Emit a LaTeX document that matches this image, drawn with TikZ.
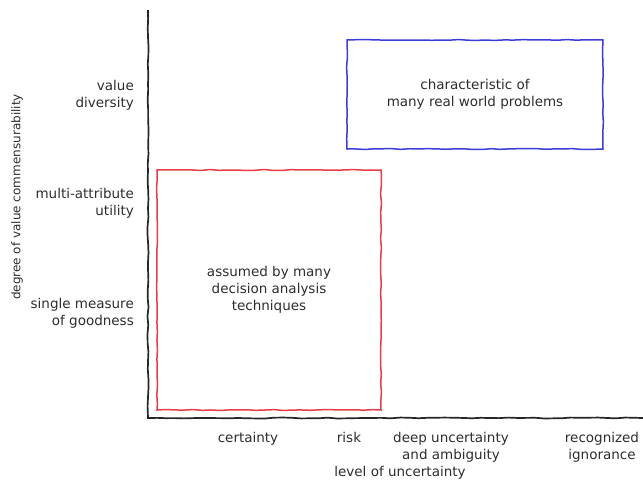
\documentclass[tikz,border=0pt]{standalone}
\usepackage{fontspec}
\setmainfont{DejaVu Sans}
\usetikzlibrary{decorations.pathmorphing}
\definecolor{inkgray}{RGB}{45,45,45}
\definecolor{boxred}{RGB}{232,60,70}
\definecolor{boxblue}{RGB}{60,60,215}
\tikzset{
  wobbly/.style={decorate,decoration={random steps,segment length=9pt,amplitude=0.5pt}},
  lbl/.style={text=inkgray,font=\fontsize{13.5}{17}\selectfont,inner sep=0pt},
  region/.style={draw,wobbly,line width=1.5pt,lbl,align=center}
}
\begin{document}
\begin{tikzpicture}[x=1pt,y=-1pt]
		\useasboundingbox (0,0) rectangle (643,482);
		\pgfmathsetseed{7}
		% Draw axes; adjust line width and color here
		\coordinate (origin) at (148,418);
		\coordinate (ytop) at (148,10);
		\coordinate (xend) at (643,418);
		\draw[wobbly,line width=1.7pt,color=black!85] (ytop) -- (origin) -- (xend);
		% Draw labels on the vertical axis
		\foreach \y/\name/\ylabel in {95/vdiv/value\\diversity,
			203/mau/multi-attribute\\utility,
			313/smg/single measure\\of goodness}
		{\node[lbl,align=right,anchor=east] (\name) at (134,\y) {\ylabel};}
		% Draw labels on the horizontal axis
		\foreach \x/\name/\xlabel in {248/cert/certainty,
			349/risk/risk,
			451/deep/deep uncertainty\\and ambiguity,
			602/ign/recognized\\ignorance}
		{\node[lbl,align=center,anchor=north] (\name) at (\x,432) {\xlabel};}
		% Axis titles
		\node[lbl] (xtitle) at (400,473) {level of uncertainty};
		\node[lbl,font=\fontsize{12}{14}\selectfont,rotate=90] (ytitle) at (17,197) {degree of value commensurability};
		% Draw the two regions
		\node[region,draw=boxred,minimum width=224,minimum height=240] (assumed) at (269,290)
			{assumed by many\\decision analysis\\techniques};
		\node[region,draw=boxblue,minimum width=256,minimum height=109] (realworld) at (475,94.5)
			{characteristic of\\many real world problems};
	\end{tikzpicture}
\end{document}
